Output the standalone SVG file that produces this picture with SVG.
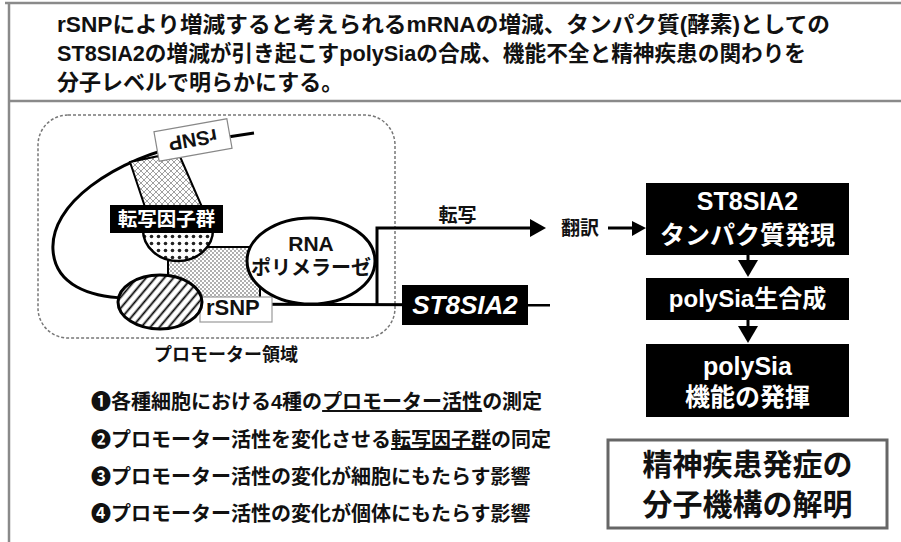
<svg xmlns="http://www.w3.org/2000/svg" width="901" height="542" viewBox="0 0 901 542">
  <style>
    .jp { font-family: "Liberation Sans", "Noto Sans CJK JP", sans-serif; font-weight: bold; }
    .title { font-size: 22px; fill: #111; }
    .item { font-size: 20px; fill: #111; }
    .wtxt { fill: #fff; text-anchor: middle; }
    .frame { stroke: #8a8a8a; stroke-width: 2.5; fill: none; }
    .thick { stroke: #000; stroke-width: 3; fill: none; }
  </style>
  <defs>
    <pattern id="crosshatch" width="6" height="6" patternUnits="userSpaceOnUse">
      <rect width="6" height="6" fill="#fff"/>
      <path d="M0 0 L6 6 M6 0 L0 6" stroke="#888" stroke-width="0.8"/>
    </pattern>
    <pattern id="stipple" width="4" height="4" patternUnits="userSpaceOnUse">
      <rect width="4" height="4" fill="#fff"/>
      <circle cx="1" cy="1" r="0.9" fill="#8a8a8a"/>
      <circle cx="3" cy="3" r="0.9" fill="#8a8a8a"/>
    </pattern>
    <pattern id="hatch" width="7" height="7" patternUnits="userSpaceOnUse" patternTransform="rotate(40)">
      <rect width="7" height="7" fill="#fff"/>
      <line x1="3.5" y1="0" x2="3.5" y2="7" stroke="#000" stroke-width="1.8"/>
    </pattern>
    <pattern id="dots" width="7" height="7" patternUnits="userSpaceOnUse" x="1" y="2">
      <rect width="7" height="7" fill="#fff"/>
      <circle cx="3.5" cy="3.5" r="1.8" fill="#222"/>
    </pattern>
  </defs>

  <rect width="901" height="542" fill="#fff"/>

  <!-- outer frame and title divider -->
  <g id="frame">
    <line class="frame" x1="5" y1="3" x2="901" y2="3"/>
    <line class="frame" x1="9" y1="3" x2="9" y2="542"/>
    <line class="frame" x1="9" y1="101" x2="901" y2="101" stroke-width="3"/>
  </g>

  <!-- title -->
  <g id="title" class="jp title">
    <text x="57" y="32" textLength="773" lengthAdjust="spacingAndGlyphs">rSNPにより増減すると考えられるmRNAの増減、タンパク質(酵素)としての</text>
    <text x="57" y="61" textLength="749" lengthAdjust="spacingAndGlyphs">ST8SIA2の増減が引き起こすpolySiaの合成、機能不全と精神疾患の関わりを</text>
    <text x="57" y="90">分子レベルで明らかにする。</text>
  </g>

  <!-- promoter region -->
  <g id="promoter-region">
    <rect x="38" y="115" width="357" height="223" rx="30" fill="none" stroke="#777" stroke-width="1.5" stroke-dasharray="3 2"/>
    <text class="jp" x="226" y="361" font-size="18" text-anchor="middle" fill="#111">プロモーター領域</text>
  </g>

  <!-- DNA loop -->
  <g id="dna">
    <path class="thick" d="M254 133 L195 142 C110 160 50 205 53 250 C55 285 90 297 125 298" stroke-width="3.5"/>
    <line class="thick" x1="190" y1="304" x2="550" y2="305" stroke-width="3.5"/>
  </g>

  <!-- transcription factor complex -->
  <g id="factor-complex">
    <rect x="168" y="247" width="92" height="53" fill="url(#stipple)" stroke="#000" stroke-width="2"/>
    <ellipse cx="178" cy="230" rx="35" ry="31" fill="url(#dots)" stroke="#000" stroke-width="2.5"/>
    <polygon points="130,162 178,152 202,207 145,207" fill="url(#crosshatch)" stroke="#000" stroke-width="2"/>
  </g>

  <g id="tf-label">
    <rect x="110" y="205" width="113" height="28" fill="#000"/>
    <text class="jp wtxt" x="166.5" y="226" font-size="19.5">転写因子群</text>
  </g>

  <g id="rsnp-upper" transform="translate(193 140) rotate(-10)">
    <rect x="-37" y="-15" width="74" height="30" fill="#fff" stroke="#888" stroke-width="1.2"/>
    <text class="jp" transform="rotate(180)" x="0" y="7" font-size="20" text-anchor="middle" fill="#111">rSNP</text>
  </g>

  <g id="rsnp-lower">
    <rect x="200" y="297" width="72" height="25" fill="#fff" stroke="#999" stroke-width="1.2"/>
    <text class="jp" x="206" y="315" font-size="22" fill="#111">rSNP</text>
  </g>

  <g id="hatched-factor">
    <ellipse cx="160" cy="302" rx="42" ry="27" fill="url(#hatch)" stroke="#000" stroke-width="3"/>
  </g>

  <g id="rna-polymerase">
    <ellipse cx="311" cy="261" rx="64" ry="43" fill="#fff" stroke="#000" stroke-width="3"/>
    <text class="jp" x="311" y="251" font-size="21" text-anchor="middle" fill="#111">RNA</text>
    <text class="jp" x="311" y="275" font-size="20" text-anchor="middle" fill="#111">ポリメラーゼ</text>
  </g>

  <g id="gene">
    <rect x="402" y="285" width="126" height="40" fill="#000"/>
    <text class="jp wtxt" x="465" y="314" font-size="26" font-style="italic">ST8SIA2</text>
  </g>

  <!-- connectors -->
  <g id="connectors">
    <path class="thick" d="M377 305 V228 H532"/>
    <polygon points="530,219 530,237 546,228" fill="#000"/>
    <line class="thick" x1="608" y1="228" x2="634" y2="228"/>
    <polygon points="632,221 632,236 646,228" fill="#000"/>
    <line class="thick" x1="748" y1="255" x2="748" y2="262"/>
    <polygon points="738,260 758,260 748,277" fill="#000"/>
    <line class="thick" x1="748" y1="320" x2="748" y2="327"/>
    <polygon points="738,326 758,326 748,343" fill="#000"/>
    <text class="jp" x="457.5" y="222" font-size="19" text-anchor="middle" fill="#111">転写</text>
    <text class="jp" x="580" y="235" font-size="19" text-anchor="middle" fill="#111">翻訳</text>
  </g>

  <!-- pathway boxes -->
  <g id="protein-expression">
    <rect x="646" y="183" width="203" height="72" fill="#000"/>
    <text class="jp wtxt" x="747.5" y="210" font-size="25">ST8SIA2</text>
    <text class="jp wtxt" x="747.5" y="244" font-size="25">タンパク質発現</text>
  </g>
  <g id="polysia-synthesis">
    <rect x="646" y="278" width="203" height="42" fill="#000"/>
    <text class="jp wtxt" x="747.5" y="307" font-size="24">polySia生合成</text>
  </g>
  <g id="polysia-function">
    <rect x="646" y="344" width="203" height="73" fill="#000"/>
    <text class="jp wtxt" x="747.5" y="375" font-size="25">polySia</text>
    <text class="jp wtxt" x="747.5" y="406" font-size="25">機能の発揮</text>
  </g>

  <!-- research items -->
  <g id="items" class="jp item">
    <text x="91" y="409">❶各種細胞における4種の<tspan text-decoration="underline">プロモーター活性</tspan>の測定</text>
    <text x="91" y="447">❷プロモーター活性を変化させる<tspan text-decoration="underline">転写因子群</tspan>の同定</text>
    <text x="91" y="484">❸プロモーター活性の変化が細胞にもたらす影響</text>
    <text x="91" y="521">❹プロモーター活性の変化が個体にもたらす影響</text>
  </g>

  <g id="goal">
    <rect x="608" y="440" width="279" height="88" fill="#fff" stroke="#666" stroke-width="3"/>
    <text class="jp" x="747.5" y="475" font-size="30" text-anchor="middle" fill="#111">精神疾患発症の</text>
    <text class="jp" x="747.5" y="515" font-size="30" text-anchor="middle" fill="#111">分子機構の解明</text>
  </g>
</svg>
